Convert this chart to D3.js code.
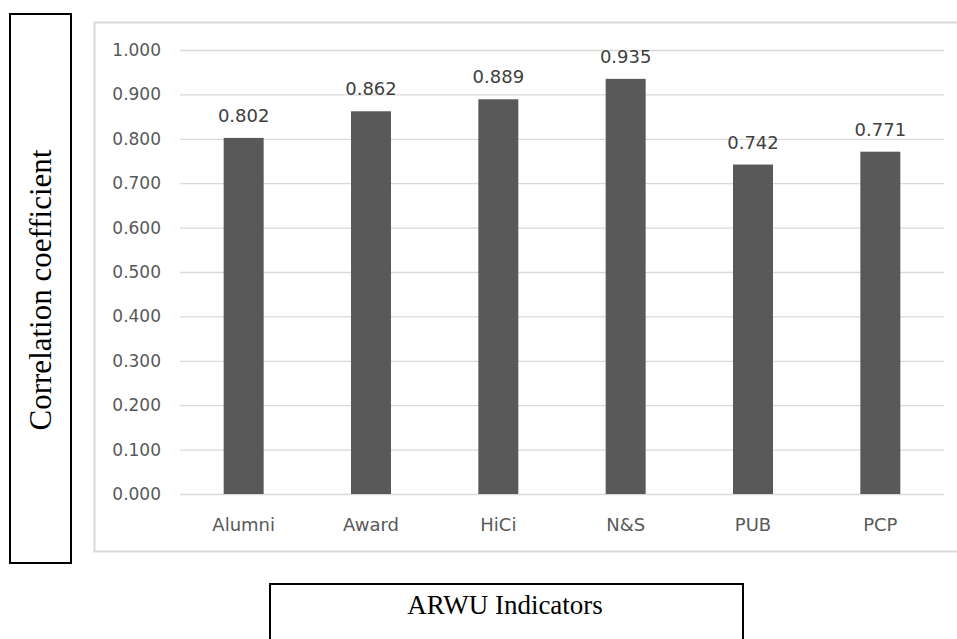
<!DOCTYPE html>
<html>
<head>
<meta charset="utf-8">
<script src="https://cdn.jsdelivr.net/npm/d3@7"></script>
<style>
  html, body { margin: 0; padding: 0; background: #fff; }
  svg { display: block; }
</style>
</head>
<body>
<svg id="chart" width="957" height="639"></svg>
<script>
// ARWU indicator correlation coefficients
const categories = ["Alumni", "Award", "HiCi", "N&S", "PUB", "PCP"];
const values = [0.802, 0.862, 0.889, 0.935, 0.742, 0.771];
const yTicks = [0, 0.1, 0.2, 0.3, 0.4, 0.5, 0.6, 0.7, 0.8, 0.9, 1.0];

const svg = d3.select("#chart");
const sansFont = "'DejaVu Sans', 'Open Sans', sans-serif";
const serifFont = "'Liberation Serif', 'DejaVu Serif', serif";

// Plot area
const plot = { left: 180, right: 944, top: 50, bottom: 494 };

// Outer chart frame
svg.append("rect")
  .attr("x", 94.5).attr("y", 22.5)
  .attr("width", 870).attr("height", 529)
  .attr("fill", "#fff")
  .attr("stroke", "#d9d9d9").attr("stroke-width", 2);

const x = d3.scaleBand()
  .domain(categories)
  .range([plot.left, plot.right])
  .paddingInner(0.686).paddingOuter(0.343);

const y = d3.scaleLinear()
  .domain([0, 1])
  .range([plot.bottom, plot.top]);

// Gridlines and y tick labels
const yAxis = d3.axisLeft(y)
  .tickValues(yTicks)
  .tickSize(-(plot.right - plot.left))
  .tickPadding(19)
  .tickFormat(d3.format(".3f"));

const gy = svg.append("g")
  .attr("transform", `translate(${plot.left},0)`)
  .call(yAxis);
gy.select(".domain").remove();
gy.selectAll(".tick line")
  .attr("stroke", "#d9d9d9").attr("stroke-width", 1.3);
gy.selectAll(".tick text")
  .attr("fill", "#595959")
  .style("font-family", sansFont)
  .style("font-size", "17px");

// Bars
svg.append("g").selectAll("rect")
  .data(values)
  .join("rect")
  .attr("x", (d, i) => x(categories[i]))
  .attr("y", d => y(d))
  .attr("width", x.bandwidth())
  .attr("height", d => y(0) - y(d))
  .attr("fill", "#595959");

// Value labels
svg.append("g").selectAll("text")
  .data(values)
  .join("text")
  .attr("x", (d, i) => x(categories[i]) + x.bandwidth() / 2)
  .attr("y", d => y(d) - 16)
  .attr("text-anchor", "middle")
  .attr("fill", "#404040")
  .style("font-family", sansFont)
  .style("font-size", "18px")
  .text(d => d3.format(".3f")(d));

// Category axis
const xAxis = d3.axisBottom(x).tickSize(0).tickPadding(24);
const gx = svg.append("g")
  .attr("transform", `translate(0,${plot.bottom})`)
  .call(xAxis);
gx.select(".domain").remove();
gx.selectAll(".tick text")
  .attr("fill", "#595959")
  .style("font-family", sansFont)
  .style("font-size", "18px");

// Y axis title box
svg.append("rect")
  .attr("x", 10).attr("y", 14)
  .attr("width", 61).attr("height", 549)
  .attr("fill", "none")
  .attr("stroke", "#000").attr("stroke-width", 2);
svg.append("text")
  .attr("transform", "translate(51,290) rotate(-90)")
  .attr("text-anchor", "middle")
  .attr("fill", "#000")
  .style("font-family", serifFont)
  .style("font-size", "31px")
  .text("Correlation coefficient");

// X axis title box
svg.append("rect")
  .attr("x", 270).attr("y", 584)
  .attr("width", 473).attr("height", 80)
  .attr("fill", "none")
  .attr("stroke", "#000").attr("stroke-width", 2);
svg.append("text")
  .attr("x", 505).attr("y", 614)
  .attr("text-anchor", "middle")
  .attr("fill", "#000")
  .style("font-family", serifFont)
  .style("font-size", "27px")
  .text("ARWU Indicators");
</script>
</body>
</html>
